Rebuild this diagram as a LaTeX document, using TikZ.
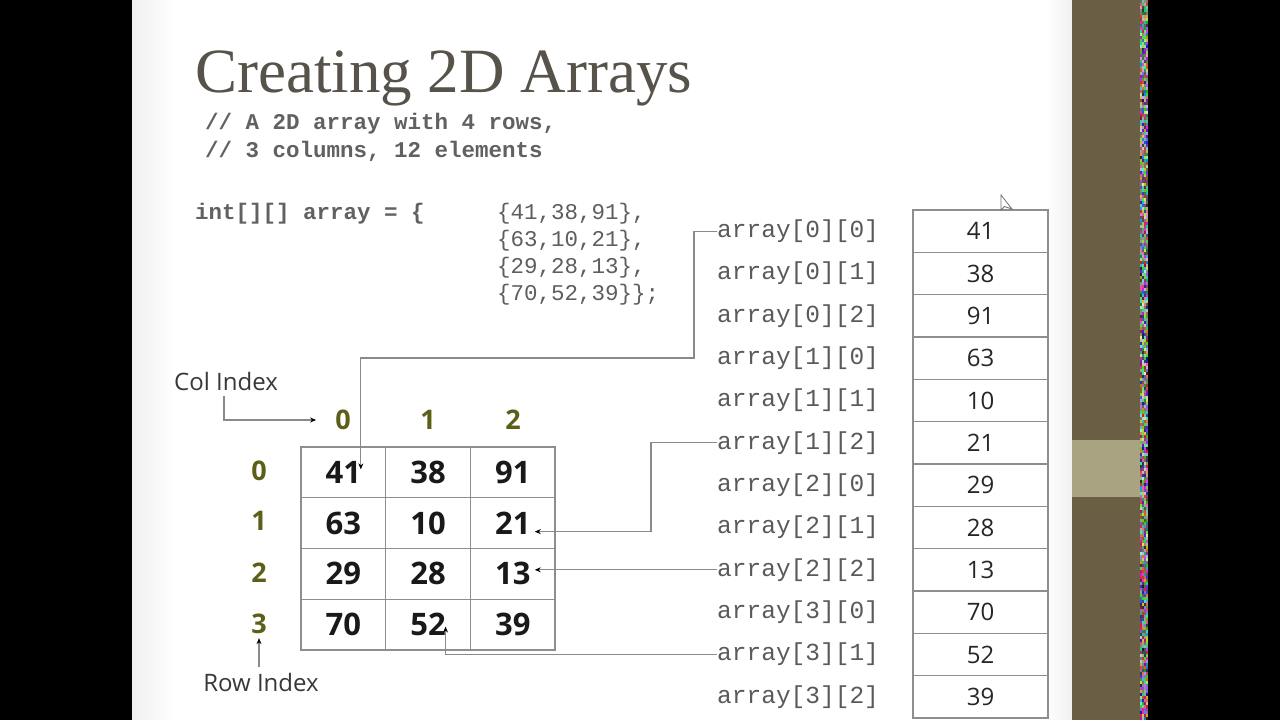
\documentclass[tikz,border=0pt]{standalone}
\usepackage{fontspec}
\usetikzlibrary{arrows.meta,calc}
\newfontfamily\titlefont{Liberation Serif}
\newfontfamily\codefont{Liberation Mono}
\newfontfamily\osans{Open Sans}
\definecolor{titlec}{HTML}{57534A}
\definecolor{codec}{HTML}{5A5A5A}
\definecolor{codelt}{HTML}{5E5E5E}
\definecolor{olive}{HTML}{5C5F17}
\definecolor{linec}{HTML}{8A8A8A}
\definecolor{gridc}{HTML}{8E8E8E}
\definecolor{brown}{HTML}{6A5E45}
\definecolor{brownlt}{HTML}{A9A381}
\tikzset{
  conn/.style={draw=linec, line width=1.2pt, -{Stealth[length=6pt,width=5pt,black]}},
  cell/.style={draw=gridc, line width=1.3pt, minimum width=84.7pt, minimum height=50.75pt, inner sep=0pt,
    font=\osans\bfseries\fontsize{31}{31}\selectfont, text=black!90},
  mem/.style={draw=gridc, line width=1.6pt, minimum width=135pt, minimum height=42.33pt, inner sep=0pt,
    font=\osans\fontsize{24}{24}\selectfont, text=black!85},
  lbl/.style={anchor=west, inner sep=0pt, font=\codefont\fontsize{24.5}{24.5}\selectfont, text=codec},
  idx/.style={inner sep=0pt, font=\osans\bfseries\fontsize{27}{27}\selectfont, text=olive},
  codeb/.style={anchor=base west, inner sep=0pt, font=\codefont\bfseries\fontsize{22.5}{22.5}\selectfont, text=black!62},
  codel/.style={anchor=base west, inner sep=0pt, font=\codefont\fontsize{22.5}{22.5}\selectfont, text=codelt},
  caption/.style={inner sep=0pt, font=\osans\fontsize{24}{24}\selectfont, text=black!78}
}
\begin{document}
\begin{tikzpicture}[x=1pt,y=-1pt]
\useasboundingbox (0,0) rectangle (1280,720);
% background
\fill[black] (0,0) rectangle (1280,720);
\fill[white] (132,0) rectangle (1072,720);
\shade[left color=black!6, right color=white] (132,0) rectangle (175,720);
\shade[left color=white, right color=black!6] (1045,0) rectangle (1072,720);
\fill[brown] (1072,0) rectangle (1140,720);
\fill[brownlt] (1072,440) rectangle (1140,497);
\pgfmathsetseed{7}
\foreach \i in {0,...,239}{
  \foreach \j in {0,...,3}{
    \pgfmathrandominteger{\rr}{20}{235}
    \pgfmathrandominteger{\gg}{20}{235}
    \pgfmathrandominteger{\bb}{20}{235}
    \definecolor{nz}{RGB}{\rr,\gg,\bb}
    \fill[nz] ({1140+2*\j},{3*\i}) rectangle ++(2,3);
  }
}
% title and code
\node[anchor=base west, inner sep=0pt, font=\titlefont\fontsize{63}{63}\selectfont, text=titlec] (title) at (195,92) {Creating 2D Arrays};
\node[codeb] (cm1) at (205,129) {// A 2D array with 4 rows,};
\node[codeb] (cm2) at (205,157) {// 3 columns, 12 elements};
\node[codeb] (decl) at (195,219) {int[][] array = \{};
\node[codel] (r0) at (497,219) {\{41,38,91\},};
\node[codel] (r1) at (497,246) {\{63,10,21\},};
\node[codel] (r2) at (497,273) {\{29,28,13\},};
\node[codel] (r3) at (497,300) {\{70,52,39\}\};};
% grid
\foreach \v [count=\k from 0] in {41,38,91,63,10,21,29,28,13,70,52,39}{
  \pgfmathtruncatemacro\rw{\k/3}
  \pgfmathtruncatemacro\cl{mod(\k,3)}
  \node[cell] (g\rw\cl) at ({301+84.7*(\cl+0.5)},{447+50.75*(\rw+0.5)}) {\v};
}
% indices
\node[idx] (c0) at (343,420) {0};
\node[idx] (c1) at (428,420) {1};
\node[idx] (c2) at (513,420) {2};
\node[idx] (i0) at (259,471) {0};
\node[idx] (i1) at (259,521) {1};
\node[idx] (i2) at (259,573) {2};
\node[idx] (i3) at (259,624) {3};
\node[caption] (colidx) at (226,381) {Col Index};
\node[caption] (rowidx) at (261,682) {Row Index};
\draw[conn] (colidx.south -| 224,0) ++(0,6) |- ([xshift=-19pt]c0.west);
\draw[conn] ([yshift=6pt]rowidx.north -| i3.south) -- ([yshift=-4pt]i3.south);
% memory column
\foreach \v/\a/\b [count=\k from 0] in {41/0/0,38/0/1,91/0/2,63/1/0,10/1/1,21/1/2,29/2/0,28/2/1,13/2/2,70/3/0,52/3/1,39/3/2}{
  \node[mem] (m\a\b) at (980.5,{210+42.33*\k+21.17}) {\v};
  \node[lbl] (a\a\b) at (717,{210+42.33*\k+21.17}) {array[\a][\b]};
}
% cursor
\draw[black!55, line width=0.8pt, fill=white] (1001,195) -- (1001,210) -- (1004.5,206.5) -- (1012,209) -- cycle;
% connectors
\coordinate (t00) at ($(g00.center)+(17.5,-3)$);
\coordinate (t12) at ($(g12.center)+(22,8.5)$);
\coordinate (t22) at ($(g22.center)+(22,0)$);
\coordinate (t31) at ($(g31.center)+(17.5,2)$);
\draw[conn] (a00.west) -- ++(-23,0) |- (t00 |- 0,358) -- (t00);
\draw[conn] (a12.west) -- ++(-66,0) |- (t12);
\draw[conn] (a22.west) -- (a22.west -| t22);
\draw[conn] (a31.west) -| (t31);
\end{tikzpicture}
\end{document}
